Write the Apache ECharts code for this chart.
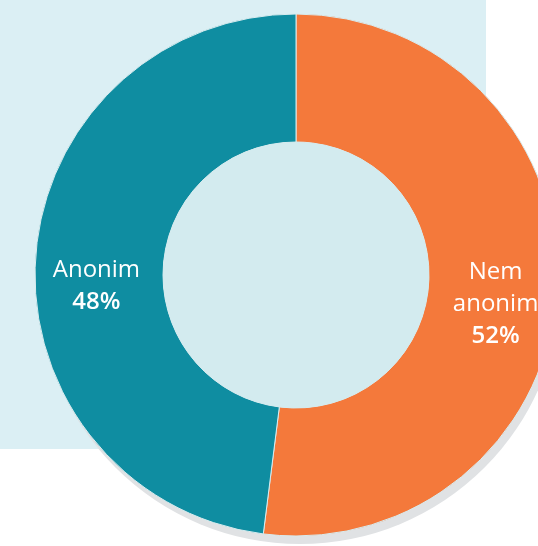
<!DOCTYPE html>
<html>
<head>
<meta charset="utf-8">
<script src="https://cdn.jsdelivr.net/npm/echarts@6/dist/echarts.min.js"></script>
<style>
  html, body { margin: 0; padding: 0; background: #ffffff; }
  #chart { width: 538px; height: 546px; }
</style>
</head>
<body>
<div id="chart"></div>
<script>
// adatok
var categories = ['Nem\nanonim', 'Anonim'];
var values = [52, 48];
var colors = ['#f4793b', '#0f8da1'];
var labelOffsets = [[0, 17], [0, 24]];

var chart = echarts.init(document.getElementById('chart'));

var labelFont = 'Open Sans';

chart.setOption({
    animation: false,
    graphic: [
        {
            type: 'rect',
            z: -10,
            shape: { x: 0, y: 0, width: 486, height: 449 },
            style: { fill: '#dbeff4' }
        }
    ],
    series: [
        {
            // árnyék
            type: 'pie',
            center: [300, 283],
            radius: [0, 261],
            silent: true,
            label: { show: false },
            labelLine: { show: false },
            itemStyle: { color: '#e0e2e4' },
            data: [{ value: 1, name: '' }]
        },
        {
            type: 'pie',
            center: [296, 275],
            radius: [133, 261],
            startAngle: 90,
            clockwise: true,
            silent: true,
            itemStyle: {
                borderColor: '#d8ecef',
                borderWidth: 1
            },
            label: {
                position: 'inside',
                color: '#ffffff',
                formatter: function (p) {
                    return '{n|' + p.name.split('\n').join('}\n{n|') + '}\n{p|' + p.value + '%}';
                },
                rich: {
                    n: { fontSize: 24, lineHeight: 32, fontWeight: 500, color: '#ffffff', fontFamily: labelFont },
                    p: { fontSize: 24, lineHeight: 32, fontWeight: 600, color: '#ffffff', fontFamily: labelFont }
                }
            },
            labelLine: { show: false },
            data: categories.map(function (c, i) {
                return {
                    name: c,
                    value: values[i],
                    itemStyle: { color: colors[i] },
                    label: { offset: labelOffsets[i] }
                };
            })
        },
        {
            type: 'pie',
            center: [296, 275],
            radius: [0, 133],
            silent: true,
            label: { show: false },
            labelLine: { show: false },
            itemStyle: { color: '#d3ebef' },
            data: [{ value: 1, name: '' }]
        }
    ]
});
</script>
</body>
</html>
